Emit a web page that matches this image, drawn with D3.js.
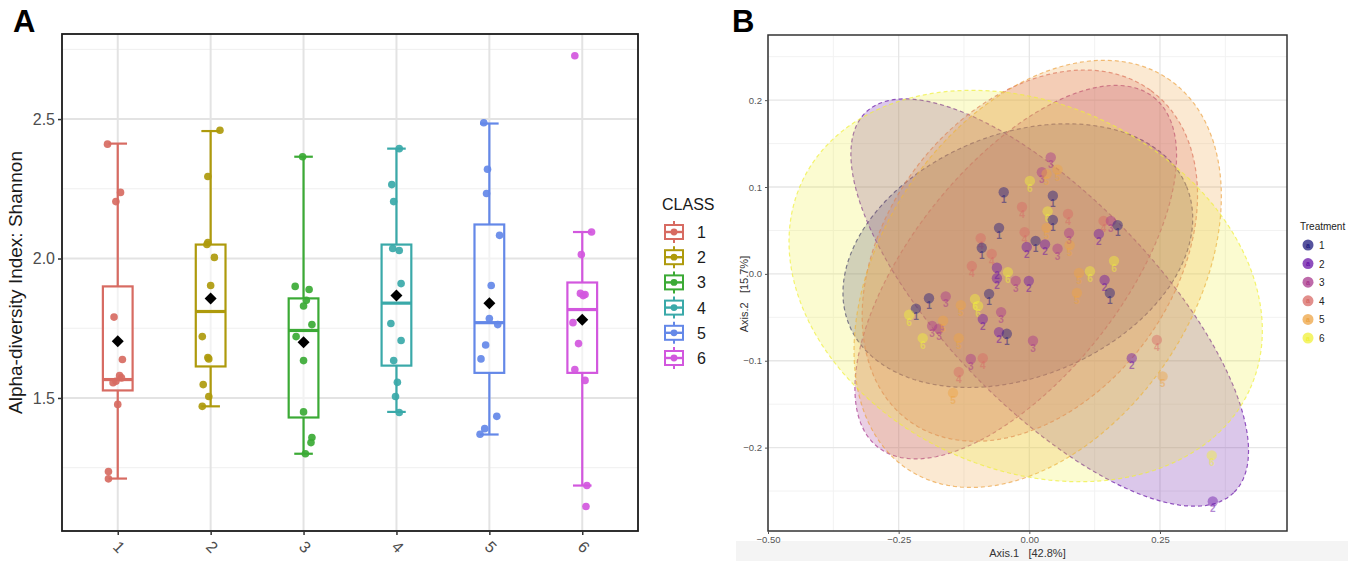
<!DOCTYPE html>
<html>
<head>
<meta charset="utf-8">
<script src="https://cdn.jsdelivr.net/npm/d3@7/dist/d3.min.js"></script>
<style>
body { margin: 0; background: #fff; }
text { font-family: "Liberation Sans", Arial, sans-serif; }
</style>
</head>
<body>
<svg id="fig" width="1359" height="561"></svg>
<script>
/* Panel A : Shannon alpha diversity per CLASS
 * Panel B : PCoA ordination with one ellipse per Treatment
 */

// ---------- panel A data ----------
var classes = ["1", "2", "3", "4", "5", "6"];
var classColors = ["#D76B62", "#AE9A0C", "#3BAA35", "#3AA9A9", "#6488E8", "#D257DE"];

var shannon = [
	[2.41, 2.237, 2.204, 1.79, 1.638, 1.58, 1.572, 1.56, 1.555, 1.477, 1.236, 1.21],
	[2.46, 2.294, 2.057, 2.05, 2.004, 1.903, 1.72, 1.645, 1.64, 1.548, 1.505, 1.47],
	[2.365, 1.90, 1.889, 1.85, 1.83, 1.763, 1.72, 1.634, 1.45, 1.358, 1.34, 1.30],
	[2.394, 2.265, 2.204, 2.036, 2.029, 1.91, 1.767, 1.706, 1.634, 1.556, 1.505, 1.448],
	[2.487, 2.32, 2.233, 2.083, 1.903, 1.785, 1.763, 1.69, 1.64, 1.434, 1.39, 1.37],
	[2.727, 2.095, 2.014, 1.875, 1.871, 1.867, 1.77, 1.695, 1.602, 1.563, 1.186, 1.111]
];
// horizontal jitter, as a share of the category step
var jitterA = [
	[-0.11, 0.03, -0.02, -0.04, 0.05, 0.02, 0.04, -0.02, -0.05, 0, -0.10, -0.10],
	[0.10, -0.03, -0.03, -0.04, 0.04, 0, -0.09, -0.03, -0.02, -0.08, -0.02, -0.09],
	[-0.01, -0.09, 0.06, 0.03, 0, 0.09, -0.08, 0, 0, 0.09, 0.08, 0.02],
	[0.03, -0.05, -0.03, -0.04, 0.03, 0.05, -0.06, 0.05, -0.03, 0.01, -0.01, 0.03],
	[-0.06, -0.02, -0.03, 0.11, 0.02, 0, 0.09, -0.04, -0.09, 0.08, -0.05, -0.10],
	[-0.08, 0.10, -0.01, -0.02, 0.03, 0.01, -0.10, -0.04, -0.08, 0.03, 0.05, 0.04]
];
var boxLow  = [1.211, 1.47, 1.30, 1.45, 1.369, 1.186];
var boxQ1   = [1.527, 1.613, 1.43, 1.616, 1.59, 1.59];
var boxMed  = [1.566, 1.81, 1.742, 1.84, 1.77, 1.817];
var boxQ3   = [1.90, 2.05, 1.857, 2.05, 2.122, 1.914];
var boxHigh = [2.412, 2.457, 2.365, 2.394, 2.484, 2.095];
var boxMean = [1.703, 1.857, 1.70, 1.867, 1.84, 1.78];
var yTicksA = [1.5, 2.0, 2.5];
var yMinorA = [1.25, 1.75, 2.25, 2.75];

// ---------- panel B data ----------
var treatments = ["1", "2", "3", "4", "5", "6"];
var treatColors = ["#1E1A7E", "#6A14A8", "#A8388E", "#D86A66", "#EDA444", "#F0F03A"];

var pcoaX = [0.041, 0.024, 0.033, 0.054, 0.001, -0.049, 0.045, -0.014, 0.074, 0.035,
	0.045, 0.033, 0.076, 0.077, -0.058, -0.009, -0.093, -0.091, -0.072, 0.012,
	-0.005, 0.030, 0.054, -0.110, -0.062, -0.062, -0.041, -0.026, -0.001, -0.077,
	-0.104, -0.098, -0.192, -0.160, -0.217, -0.230, -0.131, -0.054, -0.089, -0.186,
	-0.173, -0.165, -0.204, -0.135, -0.058, -0.043, 0.007, -0.112, -0.089, -0.135,
	-0.146, 0.095, 0.116, 0.091, 0.144, 0.154, 0.133, 0.142, 0.156, 0.169,
	0.162, 0.196, 0.244, 0.255, 0.349, 0.351];
var pcoaY = [0.134, 0.117, 0.115, 0.120, 0.107, 0.094, 0.090, 0.077, 0.069, 0.072,
	0.062, 0.053, 0.047, 0.033, 0.053, 0.048, 0.041, 0.030, 0.023, 0.038,
	0.031, 0.034, 0.029, 0.009, 0.007, -0.005, 0.002, -0.008, -0.008, -0.023,
	-0.029, -0.037, -0.028, -0.026, -0.040, -0.047, -0.036, -0.044, -0.052, -0.060,
	-0.063, -0.054, -0.074, -0.074, -0.067, -0.069, -0.077, -0.098, -0.097, -0.113,
	-0.137, 0.001, 0.003, -0.022, -0.007, -0.022, 0.046, 0.061, 0.061, 0.056,
	0.015, -0.097, -0.076, -0.118, -0.209, -0.262];
var pcoaGroup = ["3", "3", "5", "5", "6", "1", "1", "4", "4", "6",
	"1", "5", "3", "5", "1", "4", "4", "1", "4", "1",
	"2", "2", "3", "4", "2", "2", "6", "3", "2", "1",
	"6", "6", "1", "3", "1", "6", "5", "3", "2", "3",
	"3", "5", "6", "5", "2", "1", "3", "3", "4", "4",
	"5", "5", "6", "5", "2", "1", "2", "4", "3", "1",
	"6", "2", "4", "5", "6", "2"];

// ellipse per treatment: centre and the two semi-axis vectors, in axis units
var ellCx   = [-0.022, 0.039, -0.026, 0.001, 0.016, -0.007];
var ellCy   = [0.021, -0.033, 0.002, 0.021, 0.000, -0.014];
var ellMajX = [0.3228, 0.352, 0.2637, 0.2315, 0.2486, 0.4281];
var ellMajY = [0.0797, -0.219, 0.2015, 0.1901, 0.2250, -0.1200];
var ellMinX = [0.0882, -0.1444, 0.1587, 0.2222, 0.2484, -0.1478];
var ellMinY = [-0.1292, -0.0838, -0.0751, -0.0977, -0.0992, -0.1907];

var xTicksB = [-0.5, -0.25, 0, 0.25];
var xMinorB = [-0.375, -0.125, 0.125, 0.375];
var yTicksB = [-0.2, -0.1, 0, 0.1, 0.2];
var yMinorB = [-0.25, -0.15, -0.05, 0.05, 0.15, 0.25];

var svg = d3.select("#fig");

// ================= PANEL A =================
var A = { left: 62, right: 638, top: 34, bottom: 531 };

var xA = d3.scalePoint().domain(classes).range([A.left, A.right]).padding(0.6);
var yA = d3.scaleLinear().domain([1.023, 2.805]).range([A.bottom, A.top]);
var step = xA.step();

var gA = svg.append("g");

// grid
gA.selectAll(".minorA").data(yMinorA).enter().append("line")
	.attr("x1", A.left).attr("x2", A.right)
	.attr("y1", function(d) { return yA(d); }).attr("y2", function(d) { return yA(d); })
	.style("stroke", "#efefef").style("stroke-width", 1);
gA.selectAll(".majorA").data(yTicksA).enter().append("line")
	.attr("x1", A.left).attr("x2", A.right)
	.attr("y1", function(d) { return yA(d); }).attr("y2", function(d) { return yA(d); })
	.style("stroke", "#e3e3e3").style("stroke-width", 2);
gA.selectAll(".vgridA").data(classes).enter().append("line")
	.attr("x1", function(d) { return xA(d); }).attr("x2", function(d) { return xA(d); })
	.attr("y1", A.top).attr("y2", A.bottom)
	.style("stroke", "#e3e3e3").style("stroke-width", 2);

// boxplots
classes.forEach(function(c, i) {
	var cx = xA(c);
	var col = classColors[i];
	var bw = step * 0.32;
	var cap = step * 0.2;
	var g = gA.append("g");
	// whiskers
	g.append("line").attr("x1", cx).attr("x2", cx)
		.attr("y1", yA(boxHigh[i])).attr("y2", yA(boxQ3[i]))
		.style("stroke", col).style("stroke-width", 2.2);
	g.append("line").attr("x1", cx).attr("x2", cx)
		.attr("y1", yA(boxQ1[i])).attr("y2", yA(boxLow[i]))
		.style("stroke", col).style("stroke-width", 2.2);
	// caps
	[boxHigh[i], boxLow[i]].forEach(function(v) {
		g.append("line").attr("x1", cx - cap / 2).attr("x2", cx + cap / 2)
			.attr("y1", yA(v)).attr("y2", yA(v))
			.style("stroke", col).style("stroke-width", 2.2);
	});
	// box
	g.append("rect")
		.attr("x", cx - bw / 2).attr("width", bw)
		.attr("y", yA(boxQ3[i])).attr("height", yA(boxQ1[i]) - yA(boxQ3[i]))
		.style("fill", "#fff").style("fill-opacity", 0.55)
		.style("stroke", col).style("stroke-width", 2.2);
	g.append("line").attr("x1", cx - bw / 2).attr("x2", cx + bw / 2)
		.attr("y1", yA(boxMed[i])).attr("y2", yA(boxMed[i]))
		.style("stroke", col).style("stroke-width", 3.2);
	// jittered points
	g.selectAll("circle").data(shannon[i]).enter().append("circle")
		.attr("cx", function(d, j) { return cx + jitterA[i][j] * step; })
		.attr("cy", function(d) { return yA(d); })
		.attr("r", 3.8)
		.style("fill", col).style("opacity", 0.92);
	// mean diamond
	g.append("path")
		.attr("d", d3.symbol().type(d3.symbolSquare).size(72)())
		.attr("transform", "translate(" + cx + "," + yA(boxMean[i]) + ") rotate(45)")
		.style("fill", "#000");
});

// border
gA.append("rect").attr("x", A.left).attr("y", A.top)
	.attr("width", A.right - A.left).attr("height", A.bottom - A.top)
	.style("fill", "none").style("stroke", "#1a1a1a").style("stroke-width", 1.8);

// y axis
var yAxisA = d3.axisLeft(yA).tickValues(yTicksA).tickFormat(d3.format(".1f")).tickSize(4).tickPadding(3);
var ya = gA.append("g").attr("transform", "translate(" + A.left + ",0)").call(yAxisA);
ya.select(".domain").remove();
ya.selectAll("line").style("stroke", "#333").style("stroke-width", 1.5);
ya.selectAll("text").style("font-size", "16px").style("fill", "#4d4d4d")
	.style("font-family", "'Liberation Sans', Arial, sans-serif");

// x axis
var xAxisA = d3.axisBottom(xA).tickSize(4).tickPadding(0);
var xa = gA.append("g").attr("transform", "translate(0," + A.bottom + ")").call(xAxisA);
xa.select(".domain").remove();
xa.selectAll("line").style("stroke", "#333").style("stroke-width", 1.5);
xa.selectAll("text")
	.style("font-size", "16px").style("fill", "#4d4d4d")
	.style("font-family", "'Liberation Sans', Arial, sans-serif")
	.attr("text-anchor", "middle").attr("dy", null).attr("y", null)
	.attr("transform", "translate(0,17) rotate(45)")
	.attr("dominant-baseline", "middle");

gA.append("text")
	.attr("transform", "translate(22," + ((A.top + A.bottom) / 2) + ") rotate(-90)")
	.attr("text-anchor", "middle")
	.style("font-size", "19px").style("fill", "#1a1a1a")
	.text("Alpha-diversity Index: Shannon");

// legend A
var legA = gA.append("g").attr("transform", "translate(662,0)");
legA.append("text").attr("x", 0).attr("y", 210)
	.style("font-size", "16px").style("fill", "#1a1a1a").text("CLASS");
classes.forEach(function(c, i) {
	var ry = 232 + i * 25.2;
	var kx = 12;
	var k = legA.append("g");
	k.append("line").attr("x1", kx).attr("x2", kx).attr("y1", ry - 11).attr("y2", ry + 11)
		.style("stroke", classColors[i]).style("stroke-width", 2);
	k.append("rect").attr("x", kx - 9).attr("y", ry - 7).attr("width", 18).attr("height", 14)
		.style("fill", "#fff").style("stroke", classColors[i]).style("stroke-width", 2);
	k.append("line").attr("x1", kx - 9).attr("x2", kx + 9).attr("y1", ry).attr("y2", ry)
		.style("stroke", classColors[i]).style("stroke-width", 2.4);
	k.append("circle").attr("cx", kx).attr("cy", ry).attr("r", 3.4)
		.style("fill", classColors[i]);
	legA.append("text").attr("x", 35).attr("y", ry + 6)
		.style("font-size", "16px").style("fill", "#1a1a1a").text(c);
});

svg.append("text").attr("x", 13).attr("y", 32)
	.style("font-size", "31px").style("font-weight", "bold").style("fill", "#000").text("A");

// ================= PANEL B =================
var B = { left: 768, right: 1287, top: 35, bottom: 531 };
var xB = d3.scaleLinear().domain([-0.5, 0.493]).range([B.left, B.right]);
var yB = d3.scaleLinear().domain([-0.296, 0.275]).range([B.bottom, B.top]);

var gB = svg.append("g");

// grey strip at the foot of the panel image
gB.append("rect").attr("x", 736).attr("y", 541).attr("width", 612).attr("height", 20)
	.style("fill", "#f4f4f4");

gB.append("defs").append("clipPath").attr("id", "clipB")
	.append("rect").attr("x", B.left).attr("y", B.top)
	.attr("width", B.right - B.left).attr("height", B.bottom - B.top);

gB.selectAll(".bminx").data(xMinorB).enter().append("line")
	.attr("x1", function(d) { return xB(d); }).attr("x2", function(d) { return xB(d); })
	.attr("y1", B.top).attr("y2", B.bottom)
	.style("stroke", "#f2f2f2").style("stroke-width", 1);
gB.selectAll(".bminy").data(yMinorB).enter().append("line")
	.attr("x1", B.left).attr("x2", B.right)
	.attr("y1", function(d) { return yB(d); }).attr("y2", function(d) { return yB(d); })
	.style("stroke", "#f2f2f2").style("stroke-width", 1);
gB.selectAll(".bmajx").data(xTicksB).enter().append("line")
	.attr("x1", function(d) { return xB(d); }).attr("x2", function(d) { return xB(d); })
	.attr("y1", B.top).attr("y2", B.bottom)
	.style("stroke", "#e6e6e6").style("stroke-width", 1.3);
gB.selectAll(".bmajy").data(yTicksB).enter().append("line")
	.attr("x1", B.left).attr("x2", B.right)
	.attr("y1", function(d) { return yB(d); }).attr("y2", function(d) { return yB(d); })
	.style("stroke", "#e6e6e6").style("stroke-width", 1.3);

// ellipses
var ellLine = d3.line().curve(d3.curveLinearClosed);
var plotB = gB.append("g").attr("clip-path", "url(#clipB)");
treatments.forEach(function(t, i) {
	var pts = d3.range(0, 160).map(function(k) {
		var a = k / 160 * 2 * Math.PI;
		var vx = ellCx[i] + Math.cos(a) * ellMajX[i] + Math.sin(a) * ellMinX[i];
		var vy = ellCy[i] + Math.cos(a) * ellMajY[i] + Math.sin(a) * ellMinY[i];
		return [xB(vx), yB(vy)];
	});
	plotB.append("path")
		.attr("d", ellLine(pts))
		.style("fill", treatColors[i]).style("fill-opacity", 0.24)
		.style("stroke", treatColors[i]).style("stroke-opacity", 0.7)
		.style("stroke-width", 1.2).style("stroke-dasharray", "4,3");
});

// sample points with their labels
var samples = pcoaX.map(function(x, i) { return { x: x, y: pcoaY[i], g: pcoaGroup[i] }; });
var colorB = d3.scaleOrdinal().domain(treatments).range(treatColors);
var pt = plotB.selectAll(".sample").data(samples).enter().append("g")
	.attr("transform", function(d) { return "translate(" + xB(d.x) + "," + yB(d.y) + ")"; });
pt.append("text").attr("y", 11).attr("text-anchor", "middle")
	.style("font-size", "10px").style("font-weight", "bold")
	.style("fill", function(d) { return colorB(d.g); }).style("opacity", 0.5)
	.text(function(d) { return d.g; });
pt.append("circle").attr("r", 5.2)
	.style("fill", function(d) { return colorB(d.g); }).style("opacity", 0.45);

gB.append("rect").attr("x", B.left).attr("y", B.top)
	.attr("width", B.right - B.left).attr("height", B.bottom - B.top)
	.style("fill", "none").style("stroke", "#333").style("stroke-width", 1.5);

var yAxisB = d3.axisLeft(yB).tickValues(yTicksB).tickFormat(d3.format(".1f")).tickSize(3).tickPadding(3);
var yb = gB.append("g").attr("transform", "translate(" + B.left + ",0)").call(yAxisB);
yb.select(".domain").remove();
yb.selectAll("line").style("stroke", "#555");
yb.selectAll("text").style("font-size", "9.5px").style("fill", "#555")
	.style("font-family", "'Liberation Sans', Arial, sans-serif");

var xAxisB = d3.axisBottom(xB).tickValues(xTicksB).tickFormat(d3.format(".2f")).tickSize(3).tickPadding(2);
var xb = gB.append("g").attr("transform", "translate(0," + B.bottom + ")").call(xAxisB);
xb.select(".domain").remove();
xb.selectAll("line").style("stroke", "#555");
xb.selectAll("text").style("font-size", "9.5px").style("fill", "#555")
	.style("font-family", "'Liberation Sans', Arial, sans-serif");

gB.append("text").attr("x", (B.left + B.right) / 2).attr("y", 557).attr("text-anchor", "middle")
	.style("font-size", "11px").style("fill", "#333").style("white-space", "pre")
	.text("Axis.1   [42.8%]");
gB.append("text")
	.attr("transform", "translate(748," + ((B.top + B.bottom) / 2 + 11) + ") rotate(-90)")
	.attr("text-anchor", "middle").style("white-space", "pre")
	.style("font-size", "11px").style("fill", "#333")
	.text("Axis.2   [15.7%]");

// legend B
var legB = gB.append("g").attr("transform", "translate(1300,0)");
legB.append("text").attr("x", 0).attr("y", 230)
	.style("font-size", "10px").style("fill", "#222").text("Treatment");
treatments.forEach(function(t, i) {
	var ry = 245 + i * 18.6;
	legB.append("circle").attr("cx", 8).attr("cy", ry).attr("r", 5.5)
		.style("fill", treatColors[i]).style("opacity", 0.75);
	legB.append("text").attr("x", 8).attr("y", ry + 2.5).attr("text-anchor", "middle")
		.style("font-size", "7px").style("font-weight", "bold").style("fill", treatColors[i]).text("a");
	legB.append("text").attr("x", 19).attr("y", ry + 4)
		.style("font-size", "10px").style("fill", "#222").text(t);
});

svg.append("text").attr("x", 732).attr("y", 32)
	.style("font-size", "31px").style("font-weight", "bold").style("fill", "#000").text("B");
</script>
</body>
</html>
